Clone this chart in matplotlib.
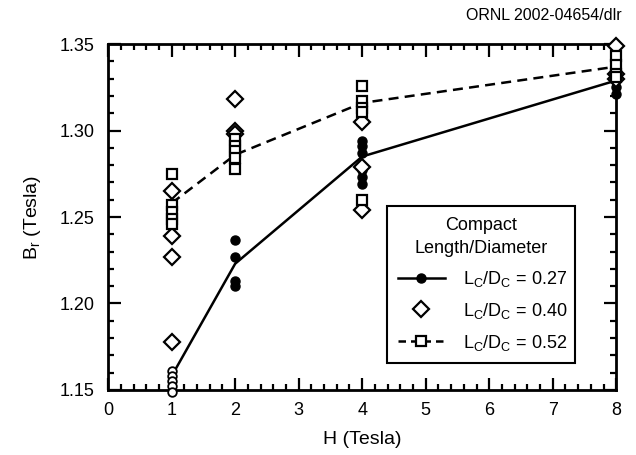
import numpy as np
import matplotlib.pyplot as plt
from matplotlib.lines import Line2D
from matplotlib.ticker import MultipleLocator

plt.rcParams['font.family'] = ['Liberation Sans', 'DejaVu Sans']
plt.rcParams['mathtext.fontset'] = 'custom'
plt.rcParams['mathtext.rm'] = 'Liberation Sans'
plt.rcParams['mathtext.it'] = 'Liberation Sans'

# L/D = 0.27 (filled circles + solid line)
h_027 = [2, 2, 2, 2, 4, 4, 4, 4, 4, 4, 8, 8, 8]
br_027 = [1.237, 1.227, 1.213, 1.210, 1.294, 1.291, 1.287, 1.277, 1.273, 1.269, 1.330, 1.325, 1.321]
# points at H=1 for 0.27 (drawn hollow in the original)
h_027_low = [1, 1, 1, 1, 1]
br_027_low = [1.161, 1.158, 1.155, 1.152, 1.149]
fit_h_027 = [1, 2, 4, 8]
fit_br_027 = [1.158, 1.223, 1.285, 1.329]

# L/D = 0.40 (open diamonds)
h_040 = [1, 1, 1, 1, 2, 2, 2, 4, 4, 4, 8, 8, 8]
br_040 = [1.265, 1.239, 1.227, 1.178, 1.318, 1.300, 1.298, 1.305, 1.279, 1.254, 1.349, 1.333, 1.330]

# L/D = 0.52 (open squares + dashed line)
h_052 = [1, 1, 1, 1, 1, 2, 2, 2, 2, 2, 4, 4, 4, 4, 4, 8, 8, 8, 8]
br_052 = [1.275, 1.257, 1.253, 1.249, 1.246, 1.295, 1.291, 1.288, 1.284, 1.278,
          1.326, 1.317, 1.313, 1.311, 1.260, 1.343, 1.338, 1.333, 1.331]
fit_h_052 = [1, 2, 4, 8]
fit_br_052 = [1.258, 1.286, 1.316, 1.337]

labels = [r'L$_\mathrm{C}$/D$_\mathrm{C}$ = 0.27',
          r'L$_\mathrm{C}$/D$_\mathrm{C}$ = 0.40',
          r'L$_\mathrm{C}$/D$_\mathrm{C}$ = 0.52']

fig = plt.figure(figsize=(6.36, 4.55), dpi=100)
ax = fig.add_axes([0.170, 0.143, 0.799, 0.760])

ax.plot(fit_h_027, fit_br_027, color='black', lw=1.8, zorder=2)
ax.plot(fit_h_052, fit_br_052, color='black', lw=1.8, ls=(0, (4, 2.5)), zorder=2)

ax.plot(h_027, br_027, 'o', color='black', ms=6.5, clip_on=False, zorder=3)
ax.plot(h_027_low, br_027_low, 'o', mfc='white', mec='black', mew=1.3, ms=6.2,
        clip_on=False, zorder=3)
ax.plot(h_040, br_040, 'D', mfc='white', mec='black', mew=1.6, ms=8.3, clip_on=False, zorder=4)
ax.plot(h_052, br_052, 's', mfc='white', mec='black', mew=1.6, ms=7.5, clip_on=False, zorder=4)

ax.set_xlim(0, 8)
ax.set_ylim(1.15, 1.35)
ax.xaxis.set_major_locator(MultipleLocator(1))
ax.xaxis.set_minor_locator(MultipleLocator(0.2))
ax.yaxis.set_major_locator(MultipleLocator(0.05))
ax.yaxis.set_minor_locator(MultipleLocator(0.01))
ax.yaxis.set_major_formatter(plt.FuncFormatter(lambda v, p: f'{v:.2f}'))

for s in ax.spines.values():
    s.set_linewidth(2)
ax.tick_params(which='both', direction='in', top=True, right=True, width=1.6,
               labelsize=13, color='black')
ax.tick_params(which='major', length=9)
ax.tick_params(which='minor', length=4.5)
ax.tick_params(axis='x', which='major', pad=9)
ax.tick_params(axis='y', which='major', pad=10)

ax.set_xlabel('H (Tesla)', fontsize=14, labelpad=8)
ax.set_ylabel(r'B$_\mathrm{r}$ (Tesla)', fontsize=14, labelpad=12)

fig.text(0.978, 0.965, 'ORNL 2002-04654/dlr', ha='right', va='center', fontsize=11.5)

handles = [
    Line2D([], [], color='black', lw=1.8, marker='o', ms=6.5),
    Line2D([], [], ls='none', marker='D', mfc='white', mec='black', mew=1.6, ms=8),
    Line2D([], [], color='black', lw=1.8, ls=(0, (3, 2)), marker='s', mfc='white',
           mec='black', mew=1.6, ms=7.5),
]
leg = ax.legend(handles, labels, title='Compact\nLength/Diameter', loc='upper left',
                bbox_to_anchor=(0.549, 0.532, 0.370, 0), mode='expand',
                fontsize=13, title_fontsize=13, frameon=True, fancybox=False,
                edgecolor='black', framealpha=1, handlelength=2.6, handletextpad=1.0,
                borderaxespad=0, labelspacing=0.65, borderpad=0.6, alignment='center')
leg.get_frame().set_linewidth(1.5)
leg.get_title().set_multialignment('center')
leg.get_title().set_linespacing(1.5)

fig.savefig('out.png', dpi=100)
